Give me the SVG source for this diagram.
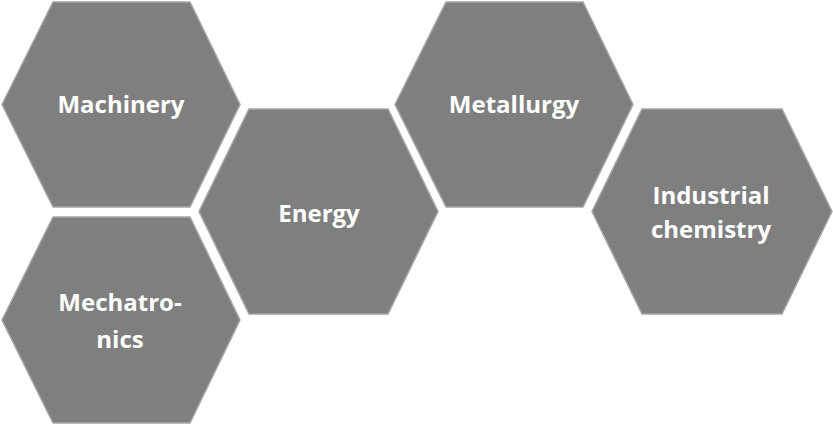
<svg xmlns="http://www.w3.org/2000/svg" width="833" height="424" viewBox="0 0 833 424">
<style>
.hex{fill:#7f7f7f;stroke:#a6a6a6;stroke-width:1.5}
.lbl{fill:#ffffff;font-family:"Open Sans","Liberation Sans",sans-serif;font-weight:bold;font-size:24px;text-anchor:middle}
</style>
<rect width="833" height="424" fill="#ffffff"/>
<g id="machinery">
<polygon class="hex" points="2,104.5 53,2 190,2 240,104.5 190,207 53,207"/>
<text class="lbl" x="121" y="113">Machinery</text>
</g>
<g id="energy">
<polygon class="hex" points="199,211.5 249,109 388,109 438,211.5 388,314 249,314"/>
<text class="lbl" x="319" y="222">Energy</text>
</g>
<g id="metallurgy">
<polygon class="hex" points="395,104.5 446,2 583,2 633,104.5 583,207 446,207"/>
<text class="lbl" x="514" y="113">Metallurgy</text>
</g>
<g id="industrial-chemistry">
<polygon class="hex" points="592,211.5 642,109 782,109 832,211.5 782,314 642,314"/>
<text class="lbl" x="711" y="204">Industrial</text>
<text class="lbl" x="711" y="238">chemistry</text>
</g>
<g id="mechatronics">
<polygon class="hex" points="2,320 53,217 190,217 240,320 190,423 53,423"/>
<text class="lbl" x="120" y="311">Mechatro-</text>
<text class="lbl" x="120" y="348">nics</text>
</g>
<g id="connectors"></g>
</svg>
